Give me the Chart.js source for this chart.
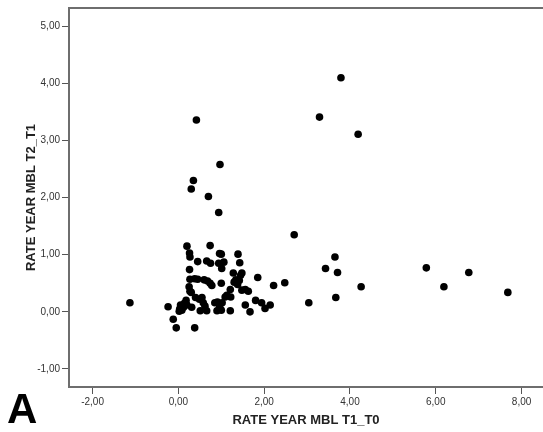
<!DOCTYPE html>
<html>
<head>
<meta charset="utf-8">
<script src="https://cdn.jsdelivr.net/npm/chart.js@4/dist/chart.umd.min.js"></script>
<style>
  html, body { margin: 0; padding: 0; background: #fff; overflow: hidden; }
  #wrap { position: relative; width: 543px; height: 432px; }
</style>
</head>
<body>
<div id="wrap"><canvas id="chart" width="543" height="432"></canvas></div>
<script>
// values
const rateT1T0 = [
  3.79, 3.29, 4.19, 0.42, 0.97, 0.35, 0.30, 0.70, 0.94, 2.70,
  3.65, 3.43, 3.71, 4.26, 3.67, 3.04, 5.78, 6.19, 6.77, 7.68,
  -1.13, 2.48, 2.22, 1.85, -0.24, -0.12, -0.05, 0.38,
  0.20, 0.74, 0.26, 0.27, 0.96, 1.00, 1.39, 0.45, 0.66, 0.75,
  0.94, 1.06, 1.43, 1.01, 0.26, 1.28, 1.48, 1.45,
  0.27, 0.38, 0.45, 0.60, 0.68, 0.74, 0.78, 1.00, 1.34, 1.30,
  1.38, 1.42, 0.25, 0.27, 0.30,
  1.21, 1.48, 1.56, 1.63,
  0.40, 0.49, 0.55, 0.58, 0.18, 0.14, 0.10, 0.05, 0.03, 0.02,
  0.08, 0.12, 0.20, 0.31, 0.51, 0.66, 0.85, 0.90, 0.96, 1.00,
  1.02, 1.09, 1.13, 1.22, 1.21, 1.56, 1.67, 1.80, 1.94, 2.02,
  2.14, 0.91, 0.62
];
const rateT2T1 = [
  4.10, 3.41, 3.11, 3.36, 2.58, 2.30, 2.15, 2.02, 1.74, 1.35,
  0.96, 0.76, 0.69, 0.44, 0.25, 0.16, 0.77, 0.44, 0.69, 0.34,
  0.16, 0.51, 0.46, 0.60, 0.09, -0.13, -0.28, -0.28,
  1.15, 1.16, 1.03, 0.96, 1.02, 1.01, 1.01, 0.88, 0.89, 0.85,
  0.85, 0.87, 0.86, 0.76, 0.74, 0.68, 0.68, 0.64,
  0.57, 0.58, 0.57, 0.56, 0.54, 0.50, 0.46, 0.50, 0.56, 0.52,
  0.48, 0.55, 0.44, 0.36, 0.34,
  0.39, 0.38, 0.39, 0.36,
  0.25, 0.22, 0.25, 0.16, 0.20, 0.15, 0.10, 0.12, 0.05, 0.01,
  0.03, 0.08, 0.12, 0.08, 0.02, 0.02, 0.16, 0.02, 0.08, 0.03,
  0.16, 0.26, 0.29, 0.26, 0.02, 0.12, 0.00, 0.20, 0.16, 0.06,
  0.12, 0.17, 0.10
];
const xTicks = [-2, 0, 2, 4, 6, 8];
const yTicks = [-1, 0, 1, 2, 3, 4, 5];
const xTitle = "RATE YEAR MBL T1_T0";
const yTitle = "RATE YEAR MBL T2_T1";
const panelLetter = "A";

const points = rateT1T0.map((x, i) => ({ x: x, y: rateT2T1[i] }));
const fmt = (v) => v.toFixed(2).replace(".", ",");
const frameColor = "#6e6e6e";
const fontFamily = "'Liberation Sans', Arial, sans-serif";

// top edge of the frame and the panel letter
const extras = {
  id: "extras",
  afterDraw(chart) {
    const ctx = chart.ctx;
    const a = chart.chartArea;
    ctx.save();
    ctx.strokeStyle = frameColor;
    ctx.lineWidth = 2;
    ctx.beginPath();
    ctx.moveTo(a.left - 1, a.top);
    ctx.lineTo(a.right + 5, a.top);
    ctx.stroke();
    ctx.fillStyle = "#000";
    ctx.font = "bold 42px " + fontFamily;
    ctx.textBaseline = "alphabetic";
    ctx.fillText(panelLetter, 7, 423);
    ctx.restore();
  }
};

new Chart(document.getElementById("chart").getContext("2d"), {
  type: "scatter",
  data: {
    datasets: [{
      data: points,
      backgroundColor: "#000",
      borderWidth: 0,
      pointRadius: 3.8,
      pointHoverRadius: 3.8
    }]
  },
  options: {
    responsive: false,
    animation: false,
    layout: { autoPadding: false, padding: { top: 8, left: 0, right: 0, bottom: 0 } },
    plugins: {
      legend: { display: false },
      tooltip: { enabled: false }
    },
    scales: {
      x: {
        type: "linear",
        min: -2.55,
        max: 8.5,
        afterBuildTicks: (s) => { s.ticks = xTicks.map(v => ({ value: v })); },
        afterFit: (s) => { s.height = 45; s.paddingLeft = 0; s.paddingRight = 0; },
        grid: { drawOnChartArea: false, tickLength: 7, tickColor: "#555", tickWidth: 1 },
        border: { color: frameColor, width: 2 },
        ticks: {
          callback: fmt,
          color: "#333",
          padding: 2,
          font: { family: fontFamily, size: 10 }
        },
        title: {
          display: true,
          text: xTitle,
          color: "#222",
          padding: { top: 0, bottom: 4 },
          font: { family: fontFamily, size: 13, weight: "bold" }
        }
      },
      y: {
        type: "linear",
        min: -1.316,
        max: 5.32,
        afterBuildTicks: (s) => { s.ticks = yTicks.map(v => ({ value: v })); },
        afterFit: (s) => { s.width = 69; },
        grid: { drawOnChartArea: false, tickLength: 7, tickColor: "#555", tickWidth: 1 },
        border: { color: frameColor, width: 2 },
        ticks: {
          callback: fmt,
          color: "#333",
          padding: 2,
          font: { family: fontFamily, size: 10 }
        },
        title: {
          display: true,
          text: yTitle,
          color: "#222",
          padding: { top: 24, bottom: 0 },
          font: { family: fontFamily, size: 13, weight: "bold" }
        }
      }
    }
  },
  plugins: [extras]
});
</script>
</body>
</html>
